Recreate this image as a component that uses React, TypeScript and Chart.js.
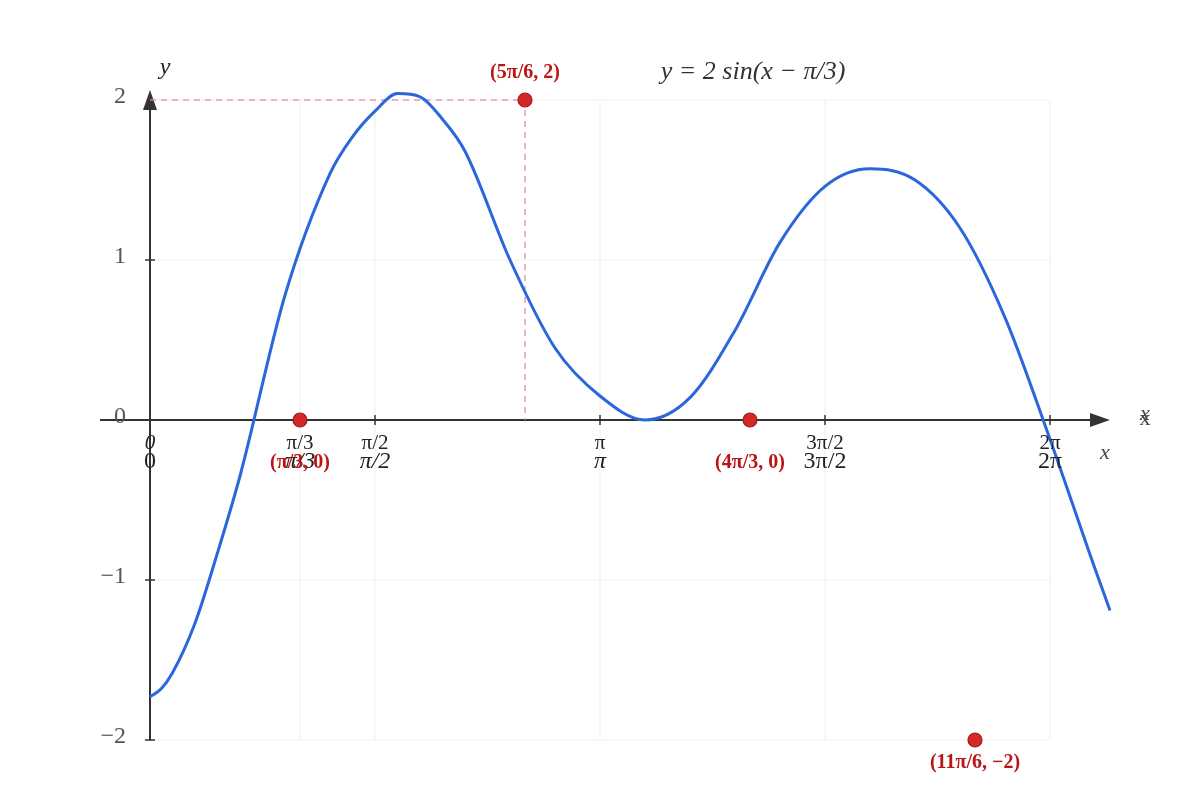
import { useEffect, useRef } from 'react';
import Chart from 'chart.js/auto';

const PI = Math.PI;

// curve samples (x in multiples of π)
const curveX = [0, 0.025, 0.05, 0.1, 0.15, 0.2, 0.3, 0.4, 0.45, 0.5, 0.55, 0.6, 0.65, 0.7, 0.8, 0.9, 1.0, 1.1, 1.2, 1.3, 1.4, 1.5, 1.6, 1.7, 1.8, 1.9, 2.0, 2.1, 2.1333];
const curveY = [-1.73, -1.68, -1.58, -1.27, -0.83, -0.35, 0.78, 1.54, 1.77, 1.93, 2.04, 2.02, 1.88, 1.68, 1.0, 0.45, 0.15, 0.0, 0.14, 0.56, 1.11, 1.46, 1.57, 1.5, 1.2, 0.64, -0.12, -0.93, -1.19];

// marked points
const keyX = [1 / 3, 5 / 6, 4 / 3, 11 / 6];
const keyY = [0, 2, 0, -2];
const keyLabels = ['(π/3, 0)', '(5π/6, 2)', '(4π/3, 0)', '(11π/6, −2)'];

// dashed guide to the maximum point
const guideX = [0, 5 / 6, 5 / 6];
const guideY = [2, 2, 0];

// ticks and grid
const gridX = [1 / 3, 1 / 2, 1, 3 / 2, 2];
const gridY = [-2, -1, 1, 2];
const xTickPos = [0, 1 / 3, 1 / 2, 1, 3 / 2, 2];
const xTickTop = ['0', 'π/3', 'π/2', 'π', '3π/2', '2π'];
const xTickBottom = ['0', 'π/3', 'π/2', 'π', '3π/2', '2π'];
const yTickPos = [2, 1, 0, -1, -2];
const yTickLabels = ['2', '1', '0', '−1', '−2'];

const TITLE = 'y = 2 sin(x − π/3)';
const SERIF = '"Liberation Serif", "Times New Roman", serif';
const RED_TEXT = '#bb1414';

const decorations = {
  id: 'decorations',
  beforeDatasetsDraw(chart: any) {
    const { ctx } = chart;
    const xs = chart.scales.x;
    const ys = chart.scales.y;
    const px = (v: number) => xs.getPixelForValue(v * PI);
    const py = (v: number) => ys.getPixelForValue(v);
    const line = (x1: number, y1: number, x2: number, y2: number) => {
      ctx.beginPath();
      ctx.moveTo(x1, y1);
      ctx.lineTo(x2, y2);
      ctx.stroke();
    };

    ctx.save();
    // grid
    ctx.strokeStyle = '#efefef';
    ctx.lineWidth = 1;
    gridX.forEach((g) => line(px(g), py(-2), px(g), py(2)));
    gridY.forEach((g) => line(px(0), py(g), px(2), py(g)));

    // axes
    ctx.strokeStyle = '#333';
    ctx.fillStyle = '#333';
    ctx.lineWidth = 2;
    line(px(-1 / 9), py(0), px(2.1), py(0));
    line(px(0), py(-2), px(0), py(1.96));

    // arrowheads
    ctx.beginPath();
    ctx.moveTo(px(2.1333), py(0));
    ctx.lineTo(px(2.0889), py(0) - 7);
    ctx.lineTo(px(2.0889), py(0) + 7);
    ctx.closePath();
    ctx.fill();
    ctx.beginPath();
    ctx.moveTo(px(0), py(2.0625));
    ctx.lineTo(px(0) - 7, py(1.9375));
    ctx.lineTo(px(0) + 7, py(1.9375));
    ctx.closePath();
    ctx.fill();

    // tick marks
    ctx.lineWidth = 1.5;
    xTickPos.slice(1).forEach((t) => line(px(t), py(0) - 5, px(t), py(0) + 5));
    yTickPos.filter((t) => t !== 0 && t !== 2).forEach((t) => line(px(0) - 5, py(t), px(0) + 5, py(t)));
    ctx.restore();
  },
  afterDatasetsDraw(chart: any) {
    const { ctx } = chart;
    const xs = chart.scales.x;
    const ys = chart.scales.y;
    const px = (v: number) => xs.getPixelForValue(v * PI);
    const py = (v: number) => ys.getPixelForValue(v);

    ctx.save();
    ctx.textAlign = 'center';
    ctx.textBaseline = 'middle';

    // y tick labels
    ctx.fillStyle = '#555';
    ctx.font = `24px ${SERIF}`;
    ctx.textAlign = 'right';
    yTickPos.forEach((t, i) => ctx.fillText(yTickLabels[i], px(0) - 24, py(t) - 3));

    // x tick labels, two stacked rows
    ctx.textAlign = 'center';
    ctx.fillStyle = '#222';
    xTickPos.forEach((t, i) => {
      ctx.font = `${i === 0 ? 'italic ' : ''}21px ${SERIF}`;
      ctx.fillText(xTickTop[i], px(t), py(0) + 23);
    });
    xTickPos.forEach((t, i) => {
      const italic = i >= 1 && i <= 3;
      ctx.font = `${italic ? 'italic ' : ''}24px ${SERIF}`;
      ctx.fillText(xTickBottom[i], px(t), py(0) + 42);
    });

    // axis names
    ctx.font = `italic 24px ${SERIF}`;
    ctx.fillText('y', px(0) + 15, py(2.0625) - 22);
    ctx.fillStyle = '#444';
    ctx.font = `italic 22px ${SERIF}`;
    ctx.fillText('x', px(2.2111), py(0) - 6);
    ctx.font = `22px ${SERIF}`;
    ctx.fillText('x', px(2.2111), py(0) - 1);
    ctx.font = `italic 22px ${SERIF}`;
    ctx.fillText('x', px(2.1333) - 5, py(0) + 33);

    // title
    ctx.fillStyle = '#333';
    ctx.font = `italic 26px ${SERIF}`;
    ctx.fillText(TITLE, px(1.34), py(2) - 28);

    // point labels
    ctx.fillStyle = RED_TEXT;
    ctx.font = `bold 20px ${SERIF}`;
    keyX.forEach((kx, i) => {
      const ky = keyY[i];
      const off = ky > 0 ? -27 : ky < 0 ? 23 : 43;
      ctx.fillText(keyLabels[i], px(kx), py(ky) + off);
    });
    ctx.restore();
  },
};

export default function App() {
  const canvasRef = useRef<HTMLCanvasElement>(null);

  useEffect(() => {
    document.body.style.margin = '0';
    const ctx = canvasRef.current?.getContext('2d');
    if (!ctx) return;

    const chart = new Chart(ctx, {
      type: 'line',
      data: {
        datasets: [
          {
            label: 'points',
            data: keyX.map((x, i) => ({ x: x * PI, y: keyY[i] })),
            showLine: false,
            pointRadius: 7,
            pointBackgroundColor: '#d62728',
            pointBorderColor: '#9e1b1b',
            pointBorderWidth: 1.2,
          },
          {
            label: 'curve',
            data: curveX.map((x, i) => ({ x: x * PI, y: curveY[i] })),
            borderColor: '#2c66dd',
            borderWidth: 3,
            pointRadius: 0,
            cubicInterpolationMode: 'monotone',
            fill: false,
          },
          {
            label: 'guide',
            data: guideX.map((x, i) => ({ x: x * PI, y: guideY[i] })),
            borderColor: 'rgba(226, 140, 165, 0.85)',
            borderWidth: 1.5,
            borderDash: [6, 5],
            pointRadius: 0,
            tension: 0,
            fill: false,
          },
        ],
      },
      options: {
        responsive: false,
        animation: false,
        events: [],
        layout: { padding: 0, autoPadding: false },
        plugins: {
          legend: { display: false },
          tooltip: { enabled: false },
        },
        scales: {
          x: { type: 'linear', display: false, min: -PI / 3, max: (7 * PI) / 3 },
          y: { type: 'linear', display: false, min: -2.375, max: 2.625 },
        },
      },
      plugins: [decorations],
    });

    return () => {
      chart.destroy();
    };
  }, []);

  return (
    <div style={{ width: 1200, height: 800, background: '#fff' }}>
      <canvas ref={canvasRef} width={1200} height={800} style={{ display: 'block' }}></canvas>
    </div>
  );
}
